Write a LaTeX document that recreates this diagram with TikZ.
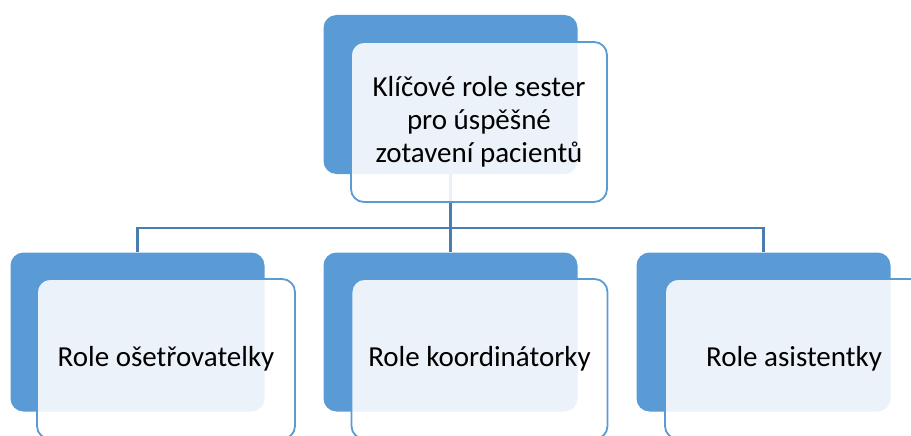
\documentclass[tikz,border=0pt]{standalone}
\usepackage{fontspec}
\setmainfont{Carlito}
\definecolor{accblue}{HTML}{5B9BD5}
\definecolor{linkblue}{HTML}{4A7DAE}
\definecolor{frontfill}{HTML}{FFFFFF}
\begin{document}
\begin{tikzpicture}[x=1pt,y=-1pt,
  backbox/.style={draw=none,fill=accblue,rounded corners=13pt,minimum width=254pt,minimum height=159pt,inner sep=0pt},
  frontbox/.style={draw=accblue,line width=1.8pt,fill=frontfill,fill opacity=0.88,text opacity=1,rounded corners=13pt,minimum width=256pt,minimum height=160pt,inner sep=0pt,align=center,font=\fontsize{29}{33}\selectfont},
  link/.style={draw=linkblue,line width=2.2pt}]
\useasboundingbox (0,0) rectangle (911,436);
\clip (0,0) rectangle (911,436);
\fill[white] (0,0) rectangle (911,436);
% back boxes
\node[backbox] (tb) at (450.5,94.5) {};
\node[backbox] (lb) at (137.5,332) {};
\node[backbox] (mb) at (450.5,332) {};
\node[backbox] (rb) at (763.5,332) {};
% connectors
\coordinate (bus) at (450.5,228);
\draw[link] (tb.south) -- (mb.north);
\draw[link] (lb.north) |- (bus);
\draw[link] (rb.north) |- (bus);
% front boxes
\node[frontbox] (tf) at (479,122) {Klíčové role sester\\pro úspěšné\\zotavení pacientů};
\node[frontbox,minimum width=258pt] (lf) at (166,359) {Role ošetřovatelky};
\node[frontbox] (mf) at (479.5,359) {Role koordinátorky};
\node[frontbox,minimum width=258pt] (rf) at (794,359) {Role asistentky};
\end{tikzpicture}
\end{document}
